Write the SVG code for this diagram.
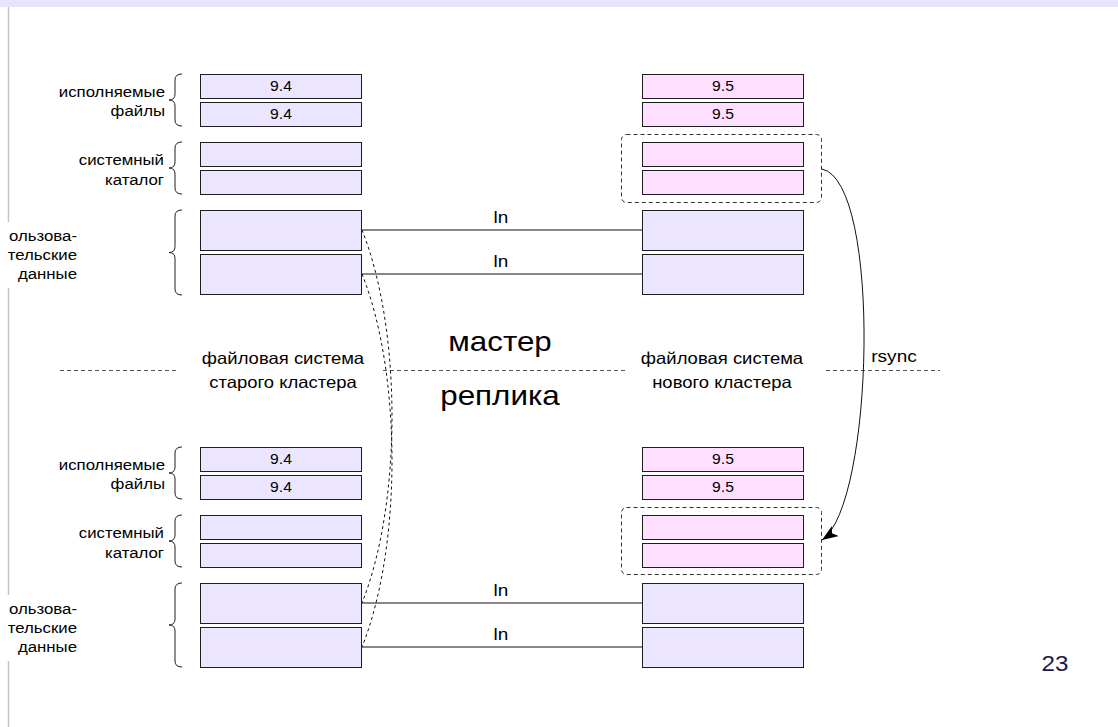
<svg xmlns="http://www.w3.org/2000/svg" width="1118" height="727" viewBox="0 0 1118 727">
  <style>
    .t { font-family: "Liberation Sans", Arial, sans-serif; fill: #000; }
    .side { font-size: 15px; text-anchor: end; }
    .ver { font-size: 14px; text-anchor: middle; }
    .ln { font-size: 17px; text-anchor: middle; }
    .fs { font-size: 16.5px; text-anchor: middle; }
    .big { font-size: 28px; text-anchor: middle; }
    .box { stroke: #1e1e1e; stroke-width: 1; }
    .old { fill: #ebe5ff; }
    .new { fill: #ffdfff; }
    .brace { fill: none; stroke: #1e1e1e; stroke-width: 1; }
    .link { fill: none; stroke: #111; stroke-width: 1; }
    .copy { fill: none; stroke: #111; stroke-width: 1; stroke-dasharray: 3 3; }
    .group { fill: none; stroke: #333; stroke-width: 1; stroke-dasharray: 4 3; }
    .split { fill: none; stroke: #555; stroke-width: 1; stroke-dasharray: 4 3; }
  </style>
  <defs>
    <marker id="arrow" markerUnits="userSpaceOnUse" markerWidth="17" markerHeight="13" refX="16" refY="6" orient="auto">
      <path d="M0,0 L16,6 L0,12 L4,6 Z" fill="#000"/>
    </marker>
  </defs>

  <!-- slide frame -->
  <rect x="0" y="0" width="1118" height="7" fill="#e7e5fe"/>
  <line x1="8.5" y1="7" x2="8.5" y2="727" stroke="#c4c4c4" stroke-width="1.5"/>
  <rect x="0" y="222" width="80" height="66" fill="#fff"/>
  <rect x="0" y="595" width="80" height="66" fill="#fff"/>

  <!-- master / replica divider -->
  <g id="divider">
    <line class="split" x1="60" y1="370.5" x2="176" y2="370.5"/>
    <line class="split" x1="383" y1="370.5" x2="625" y2="370.5"/>
    <line class="split" x1="826" y1="370.5" x2="940" y2="370.5"/>
  </g>

  <!-- section labels, left side -->
  <g id="labels-master">
    <text class="t side" transform="translate(165 97) scale(1.12 1)">исполняемые</text>
    <text class="t side" transform="translate(165 116) scale(1.12 1)">файлы</text>
    <path class="brace" d="M182,74 Q175,74 175,80 L175,94 Q175,100 169,100 Q175,100 175,106 L175,120 Q175,126 182,126"/>
    <text class="t side" transform="translate(164 165) scale(1.12 1)">системный</text>
    <text class="t side" transform="translate(164 185) scale(1.12 1)">каталог</text>
    <path class="brace" d="M182,142 Q175,142 175,148 L175,162 Q175,168 169,168 Q175,168 175,174 L175,188 Q175,194 182,194"/>
    <text class="t side" transform="translate(77 241) scale(1.12 1)">ользова-</text>
    <text class="t side" transform="translate(77 260) scale(1.12 1)">тельские</text>
    <text class="t side" transform="translate(77 279) scale(1.12 1)">данные</text>
    <path class="brace" d="M182,210 Q175,210 175,216 L175,246.5 Q175,252.5 169,252.5 Q175,252.5 175,258.5 L175,289 Q175,295 182,295"/>
  </g>
  <g id="labels-replica">
    <text class="t side" transform="translate(165 470) scale(1.12 1)">исполняемые</text>
    <text class="t side" transform="translate(165 489) scale(1.12 1)">файлы</text>
    <path class="brace" d="M182,447 Q175,447 175,453 L175,467 Q175,473 169,473 Q175,473 175,479 L175,493 Q175,499 182,499"/>
    <text class="t side" transform="translate(164 538) scale(1.12 1)">системный</text>
    <text class="t side" transform="translate(164 558) scale(1.12 1)">каталог</text>
    <path class="brace" d="M182,515 Q175,515 175,521 L175,535 Q175,541 169,541 Q175,541 175,547 L175,561 Q175,567 182,567"/>
    <text class="t side" transform="translate(77 614) scale(1.12 1)">ользова-</text>
    <text class="t side" transform="translate(77 633) scale(1.12 1)">тельские</text>
    <text class="t side" transform="translate(77 652) scale(1.12 1)">данные</text>
    <path class="brace" d="M182,583 Q175,583 175,589 L175,619 Q175,625 169,625 Q175,625 175,631 L175,661 Q175,667 182,667"/>
  </g>

  <!-- captions -->
  <g id="captions">
    <text class="t fs" transform="translate(283 364) scale(1.12 1)">файловая система</text>
    <text class="t fs" transform="translate(283 388) scale(1.12 1)">старого кластера</text>
    <text class="t fs" transform="translate(722 364) scale(1.12 1)">файловая система</text>
    <text class="t fs" transform="translate(722 388) scale(1.12 1)">нового кластера</text>
    <text class="t big" transform="translate(500 351) scale(1.12 1)">мастер</text>
    <text class="t big" transform="translate(500 405) scale(1.12 1)">реплика</text>
  </g>

  <!-- connectors -->
  <g id="connectors">
    <line class="link" x1="361" y1="230" x2="642" y2="230"/>
    <line class="link" x1="361" y1="274" x2="642" y2="274"/>
    <line class="link" x1="361" y1="603" x2="642" y2="603"/>
    <line class="link" x1="361" y1="647" x2="642" y2="647"/>
    <text class="t ln" transform="translate(501 223) scale(1.12 1)">ln</text>
    <text class="t ln" transform="translate(501 267) scale(1.12 1)">ln</text>
    <text class="t ln" transform="translate(501 596) scale(1.12 1)">ln</text>
    <text class="t ln" transform="translate(501 640) scale(1.12 1)">ln</text>
    <path class="copy" d="M362,230 C402,330 402,503 362,603"/>
    <path class="copy" d="M362,274 C402,374 402,547 362,647"/>
    <path class="link" d="M822,169 C882,182 874,505 822,540" marker-end="url(#arrow)"/>
    <text class="t" font-size="17" text-anchor="middle" transform="translate(894 362) scale(1.12 1)">rsync</text>
  </g>

  <!-- master, old cluster -->
  <g id="m-old-bin1"><rect class="box old" x="200.5" y="74.5" width="161" height="24"/><text class="t ver" transform="translate(281 91) scale(1.12 1)">9.4</text></g>
  <g id="m-old-bin2"><rect class="box old" x="200.5" y="102.5" width="161" height="24"/><text class="t ver" transform="translate(281 119) scale(1.12 1)">9.4</text></g>
  <g id="m-old-cat1"><rect class="box old" x="200.5" y="142.5" width="161" height="24"/></g>
  <g id="m-old-cat2"><rect class="box old" x="200.5" y="170.5" width="161" height="24"/></g>
  <g id="m-old-data1"><rect class="box old" x="200.5" y="210.5" width="161" height="40"/></g>
  <g id="m-old-data2"><rect class="box old" x="200.5" y="254.5" width="161" height="40"/></g>

  <!-- master, new cluster -->
  <g id="m-new-bin1"><rect class="box new" x="642.5" y="74.5" width="161" height="24"/><text class="t ver" transform="translate(723 91) scale(1.12 1)">9.5</text></g>
  <g id="m-new-bin2"><rect class="box new" x="642.5" y="102.5" width="161" height="24"/><text class="t ver" transform="translate(723 119) scale(1.12 1)">9.5</text></g>
  <g id="m-new-cat">
    <rect class="group" x="621.5" y="134.5" width="200" height="68" rx="5"/>
    <rect class="box new" x="642.5" y="142.5" width="161" height="24"/>
    <rect class="box new" x="642.5" y="170.5" width="161" height="24"/>
  </g>
  <g id="m-new-data1"><rect class="box old" x="642.5" y="210.5" width="161" height="40"/></g>
  <g id="m-new-data2"><rect class="box old" x="642.5" y="254.5" width="161" height="40"/></g>

  <!-- replica, old cluster -->
  <g id="r-old-bin1"><rect class="box old" x="200.5" y="447.5" width="161" height="24"/><text class="t ver" transform="translate(281 464) scale(1.12 1)">9.4</text></g>
  <g id="r-old-bin2"><rect class="box old" x="200.5" y="475.5" width="161" height="24"/><text class="t ver" transform="translate(281 492) scale(1.12 1)">9.4</text></g>
  <g id="r-old-cat1"><rect class="box old" x="200.5" y="515.5" width="161" height="24"/></g>
  <g id="r-old-cat2"><rect class="box old" x="200.5" y="543.5" width="161" height="24"/></g>
  <g id="r-old-data1"><rect class="box old" x="200.5" y="583.5" width="161" height="40"/></g>
  <g id="r-old-data2"><rect class="box old" x="200.5" y="627.5" width="161" height="40"/></g>

  <!-- replica, new cluster -->
  <g id="r-new-bin1"><rect class="box new" x="642.5" y="447.5" width="161" height="24"/><text class="t ver" transform="translate(723 464) scale(1.12 1)">9.5</text></g>
  <g id="r-new-bin2"><rect class="box new" x="642.5" y="475.5" width="161" height="24"/><text class="t ver" transform="translate(723 492) scale(1.12 1)">9.5</text></g>
  <g id="r-new-cat">
    <rect class="group" x="621.5" y="507.5" width="200" height="67" rx="5"/>
    <rect class="box new" x="642.5" y="515.5" width="161" height="24"/>
    <rect class="box new" x="642.5" y="543.5" width="161" height="24"/>
  </g>
  <g id="r-new-data1"><rect class="box old" x="642.5" y="583.5" width="161" height="40"/></g>
  <g id="r-new-data2"><rect class="box old" x="642.5" y="627.5" width="161" height="40"/></g>

  <!-- page number -->
  <text class="t" font-size="22" text-anchor="middle" style="fill:#1b1b4b" transform="translate(1055 671) scale(1.1 1)">23</text>
</svg>
